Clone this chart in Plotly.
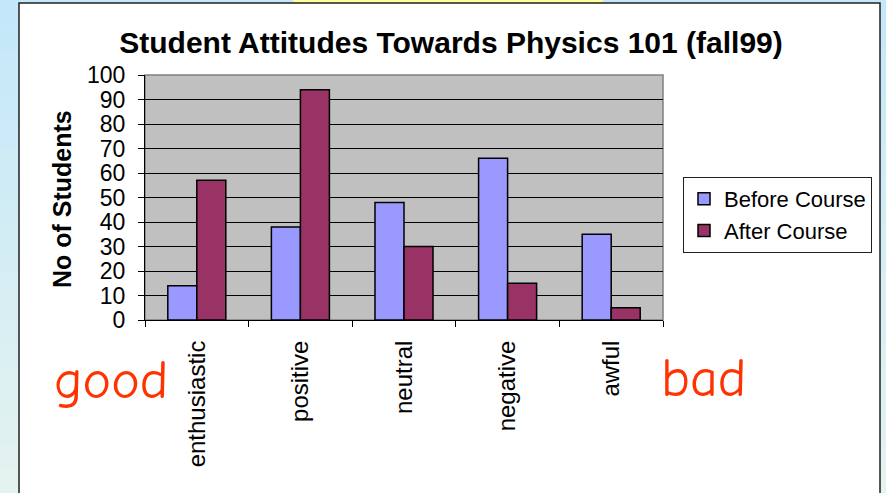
import plotly.graph_objects as go

categories = ["enthusiastic", "positive", "neutral", "negative", "awful"]
before_course = [14, 38, 48, 66, 35]
after_course = [57, 94, 30, 15, 5]
series_names = ["Before Course", "After Course"]
y_ticks = list(range(0, 101, 10))

FONT = "Liberation Sans, Arial, sans-serif"
W, H = 886, 493
L, R, T, B = 145, 223, 75, 173
PW, PH = W - L - R, H - T - B


def px_x(px):
    return (px - L) / PW


def px_y(py):
    return (H - B - py) / PH


fig = go.Figure()
fig.add_trace(go.Bar(x=categories, y=before_course, name=series_names[0],
                     marker=dict(color="#9999FF", line=dict(color="black", width=1.5))))
fig.add_trace(go.Bar(x=categories, y=after_course, name=series_names[1],
                     marker=dict(color="#993366", line=dict(color="black", width=1.5))))

shapes = []
# page background gradient bands
top_c = (0xC4, 0xE8, 0xFA)
bot_c = (0xE4, 0xF3, 0xF0)
n = 20
for i in range(n):
    t = i / (n - 1)
    c = tuple(int(top_c[k] + (bot_c[k] - top_c[k]) * t) for k in range(3))
    y0 = i * H / n
    y1 = (i + 1) * H / n + 1
    shapes.append(dict(type="rect", xref="paper", yref="paper", layer="below",
                       x0=px_x(-2), x1=px_x(W + 2), y0=px_y(y1), y1=px_y(y0),
                       fillcolor="rgb(%d,%d,%d)" % c, line=dict(width=0)))
# yellow strip at top
shapes.append(dict(type="rect", xref="paper", yref="paper", layer="below",
                   x0=px_x(293), x1=px_x(603), y0=px_y(4), y1=px_y(-2),
                   fillcolor="#FFFF99", line=dict(width=0)))
# white chart box
shapes.append(dict(type="rect", xref="paper", yref="paper", layer="below",
                   x0=px_x(19), x1=px_x(880), y0=px_y(H + 10), y1=px_y(3),
                   fillcolor="white", line=dict(color="#202020", width=1.5)))
# gray plot area
shapes.append(dict(type="rect", xref="paper", yref="paper", layer="below",
                   x0=0, x1=1, y0=0, y1=1,
                   fillcolor="#C0C0C0", line=dict(color="#808080", width=1.5)))

annotations = [
    dict(text="<b>No of Students</b>", xref="paper", yref="paper",
         x=px_x(62), y=px_y(199), textangle=-90, showarrow=False,
         font=dict(family=FONT, size=25, color="black"),
         xanchor="center", yanchor="middle"),
    dict(text="good", xref="paper", yref="paper", x=px_x(111), y=px_y(380),
         showarrow=False, font=dict(family="Comic Sans MS, Comic Neue, DejaVu Sans", size=54, color="#FF3300"),
         xanchor="center", yanchor="middle"),
    dict(text="bad", xref="paper", yref="paper", x=px_x(703), y=px_y(378),
         showarrow=False, font=dict(family="Comic Sans MS, Comic Neue, DejaVu Sans", size=54, color="#FF3300"),
         xanchor="center", yanchor="middle"),
]

fig.update_layout(
    template="none",
    width=W, height=H,
    margin=dict(l=L, r=R, t=T, b=B, autoexpand=False),
    paper_bgcolor="#C8EAF8",
    plot_bgcolor="rgba(0,0,0,0)",
    title=dict(text="<b>Student Attitudes Towards Physics 101 (fall99)</b>",
               x=451 / W, y=1 - 42 / H, xanchor="center", yanchor="middle",
               font=dict(family=FONT, size=30, color="black")),
    barmode="group", bargap=0.44, bargroupgap=0,
    xaxis=dict(tickangle=-90, tickson="boundaries", ticks="outside", ticklen=6,
               tickcolor="black", showgrid=False, showline=True, linecolor="black",
               linewidth=1, tickfont=dict(family=FONT, size=24, color="black"),
               ticklabelstandoff=10, automargin=False),
    yaxis=dict(range=[0, 100], tickvals=y_ticks, ticks="outside", ticklen=6,
               tickcolor="black", showgrid=True, gridcolor="black", gridwidth=1,
               showline=True, linecolor="black", linewidth=1, zeroline=False,
               tickfont=dict(family=FONT, size=23, color="black"),
               ticklabelstandoff=8, automargin=False),
    legend=dict(x=px_x(683), y=px_y(177), xanchor="left", yanchor="top",
                bgcolor="white", bordercolor="#202020", borderwidth=1,
                font=dict(family=FONT, size=22, color="black"),
                itemwidth=30, tracegroupgap=0),
    shapes=shapes,
    annotations=annotations,
)

fig.write_html("out.html",
               config={"displayModeBar": False},
               post_script="document.body.style.margin='0';document.body.style.overflow='hidden';")
